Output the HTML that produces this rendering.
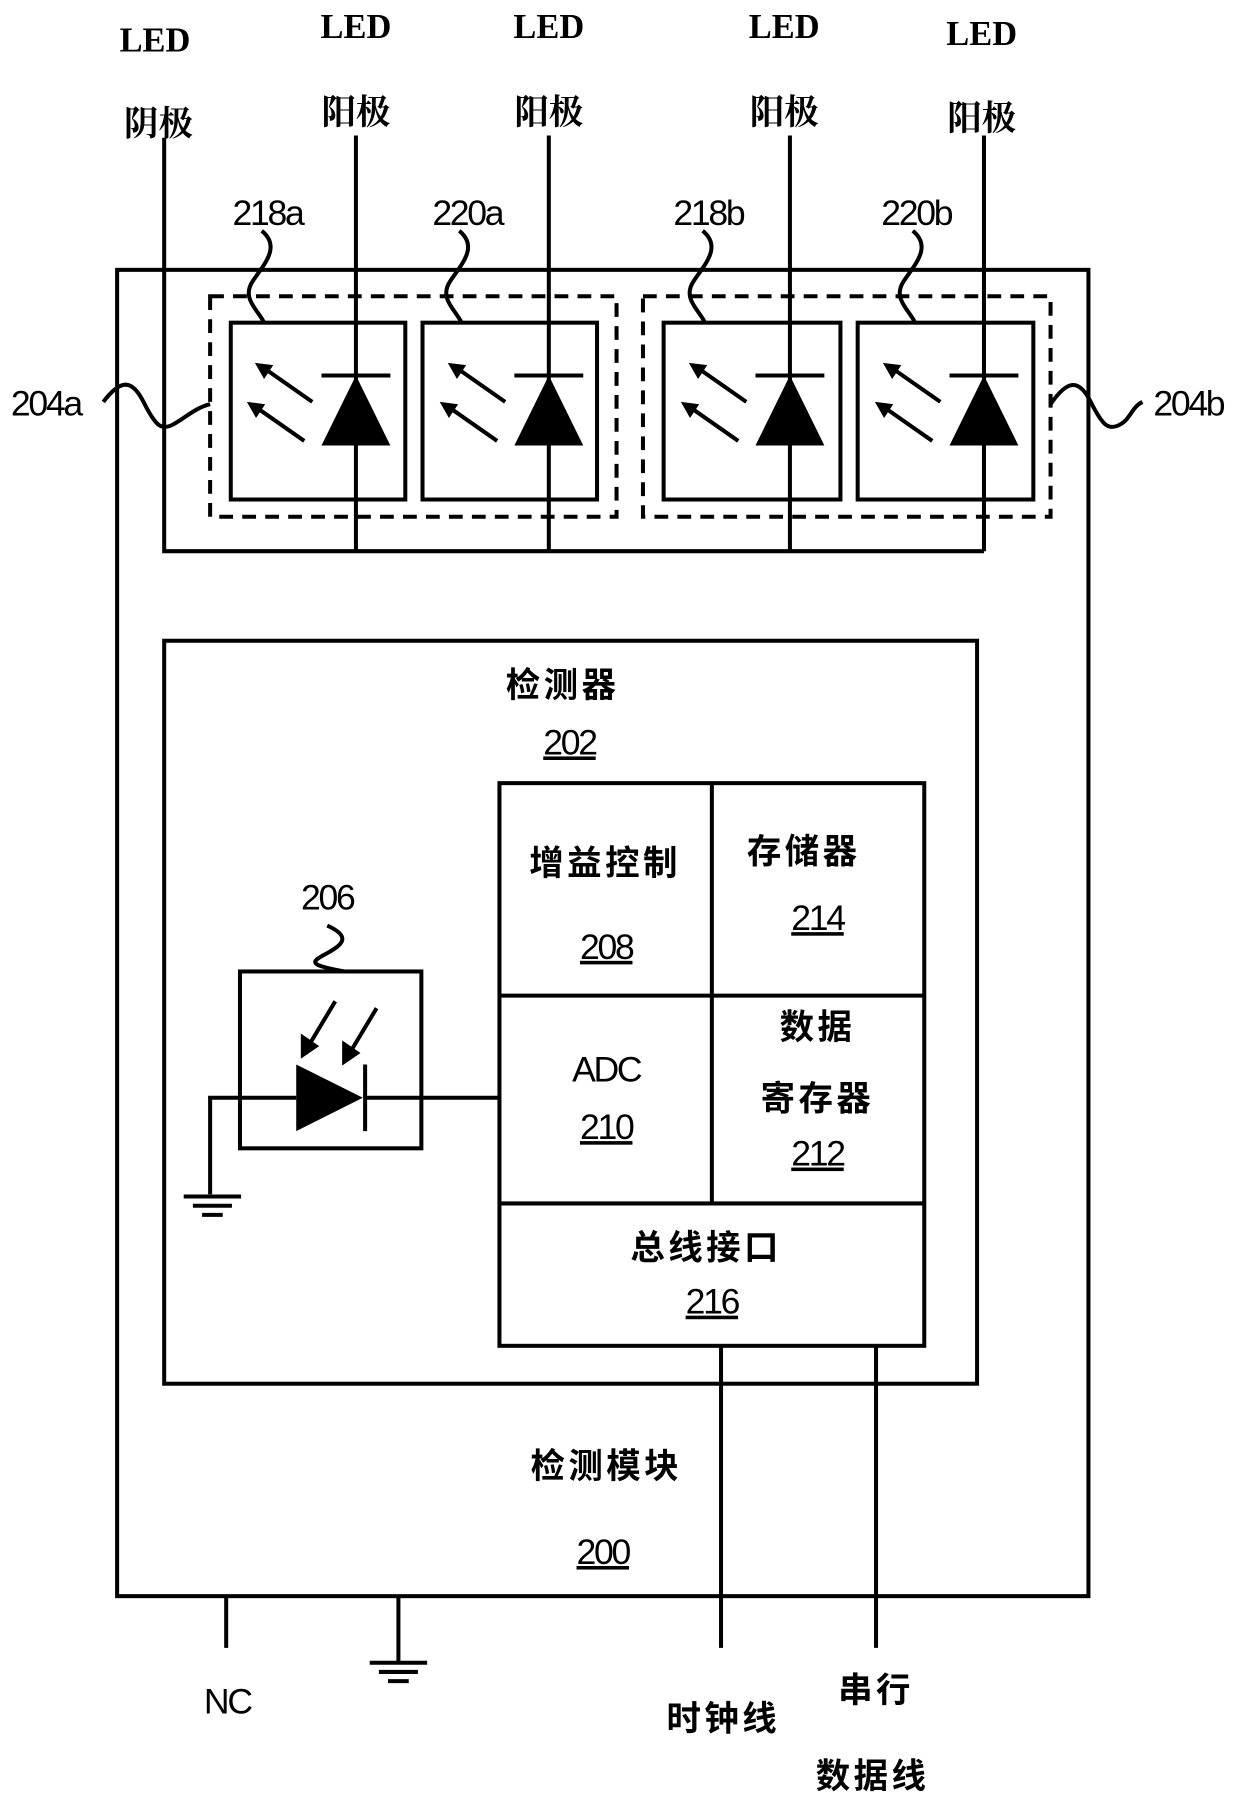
<!DOCTYPE html>
<html><head><meta charset="utf-8"><style>
html,body{margin:0;padding:0;background:#fff;}
svg{display:block;}
.s{font-family:"Liberation Serif","Noto Serif CJK SC","Noto Sans CJK SC",serif;font-weight:bold;font-size:30px;fill:#000;}
.n{font-family:"Liberation Sans","Noto Sans CJK SC",sans-serif;font-size:31px;fill:#000;letter-spacing:-2px;}
.c{font-family:"Liberation Sans","Noto Sans CJK SC",sans-serif;font-weight:bold;font-size:30px;fill:#000;letter-spacing:3px;}
</style></head><body>
<svg width="1240" height="1804" viewBox="0 0 1080 1571" preserveAspectRatio="none" xmlns="http://www.w3.org/2000/svg">
<defs>
<g id="led">
<path d="M-30 327H30" stroke="#000" stroke-width="3.5"/>
<polygon points="0,327 -30,388 30,388" fill="#000"/>
<path d="M-38 350L-78 322M-45 384L-85 356" stroke="#000" stroke-width="3.5"/>
<polygon points="-88,316 -72,318 -80,330" fill="#000"/>
<polygon points="-95,350 -79,352 -87,364" fill="#000"/>
</g>
</defs>
<g stroke="#000" stroke-width="3.5" fill="none">
<rect x="102" y="235" width="846" height="1155"/>
<path d="M143 120V480H857M310 118V480M478 118V480M688 118V480M857 118V480"/>
<g stroke-dasharray="12,8">
<rect x="183" y="258" width="354" height="192"/>
<rect x="560" y="258" width="355" height="192"/>
</g>
<rect x="201" y="281" width="152" height="154"/>
<rect x="368" y="281" width="152" height="154"/>
<rect x="578" y="281" width="154" height="154"/>
<rect x="747" y="281" width="153" height="154"/>
<rect x="143" y="558" width="708" height="647"/>
<rect x="435" y="682" width="370" height="490"/>
<path d="M620 682V1048M435 867H805M435 1048H805"/>
<rect x="209" y="846" width="158" height="154"/>
<path d="M183 1040V956H258M318 956H435M318 927V985"/>
<path d="M160 1042H210M168 1050H202M176 1058H194" />
<path d="M628 1172V1435M763 1172V1435M197 1390V1435M347 1390V1448M322 1448H372M330 1456H364M338 1464H356"/>
<path d="M292 872L268 912M328 878L304 918"/>
<path d="M228 201C245 215 230 230 220 245S225 270 230 281"/>
<path d="M400 201C417 215 402 230 392 245S397 270 402 281"/>
<path d="M612 201C629 215 614 230 604 245S609 270 614 281"/>
<path d="M795 201C812 215 797 230 787 245S792 270 797 281"/>
<path d="M90 350C105 330 115 330 125 350S140 375 150 370S170 355 183 352"/>
<path d="M915 352C930 330 940 330 950 350S965 375 975 370S985 355 995 350"/>
<path d="M285 806C305 815 300 822 285 830S268 840 300 846"/>
</g>
<g fill="#000">
<polygon points="258,927 258,985 316,956"/>
<polygon points="262,922 262,900 278,911"/>
<polygon points="298,928 298,906 314,917"/>
</g>
<use href="#led" x="310"/><use href="#led" x="478"/><use href="#led" x="688"/><use href="#led" x="857"/>
<g text-anchor="middle">
<text class="s" x="135" y="45">LED</text>
<text class="s" x="310" y="33">LED</text>
<text class="s" x="478" y="33">LED</text>
<text class="s" x="683" y="33">LED</text>
<text class="s" x="855" y="39">LED</text>
<text class="s" x="138" y="118">阴极</text>
<text class="s" x="310" y="108">阳极</text>
<text class="s" x="478" y="108">阳极</text>
<text class="s" x="683" y="108">阳极</text>
<text class="s" x="855" y="113">阳极</text>
<text class="n" x="233" y="196">218a</text>
<text class="n" x="407" y="196">220a</text>
<text class="n" x="617" y="196">218b</text>
<text class="n" x="798" y="196">220b</text>
<text class="n" x="40" y="362">204a</text>
<text class="n" x="1035" y="362">204b</text>
<text class="n" x="285" y="792">206</text>
<text class="c" x="490" y="607">检测器</text>
<text class="n" x="496" y="657" text-decoration="underline">202</text>
<text class="c" x="527" y="762">增益控制</text>
<text class="n" x="528" y="835" text-decoration="underline">208</text>
<text class="c" x="700" y="752">存储器</text>
<text class="n" x="712" y="810" text-decoration="underline">214</text>
<text class="n" x="528" y="942">ADC</text>
<text class="n" x="528" y="992" text-decoration="underline">210</text>
<text class="c" x="712" y="905">数据</text>
<text class="c" x="712" y="967">寄存器</text>
<text class="n" x="712" y="1015" text-decoration="underline">212</text>
<text class="c" x="615" y="1097">总线接口</text>
<text class="n" x="620" y="1144" text-decoration="underline">216</text>
<text class="c" x="528" y="1287">检测模块</text>
<text class="n" x="525" y="1362" text-decoration="underline">200</text>
<text class="n" x="198" y="1492">NC</text>
<text class="c" x="630" y="1507">时钟线</text>
<text class="c" x="763" y="1482">串行</text>
<text class="c" x="760" y="1557">数据线</text>
</g>
</svg>
</body></html>
